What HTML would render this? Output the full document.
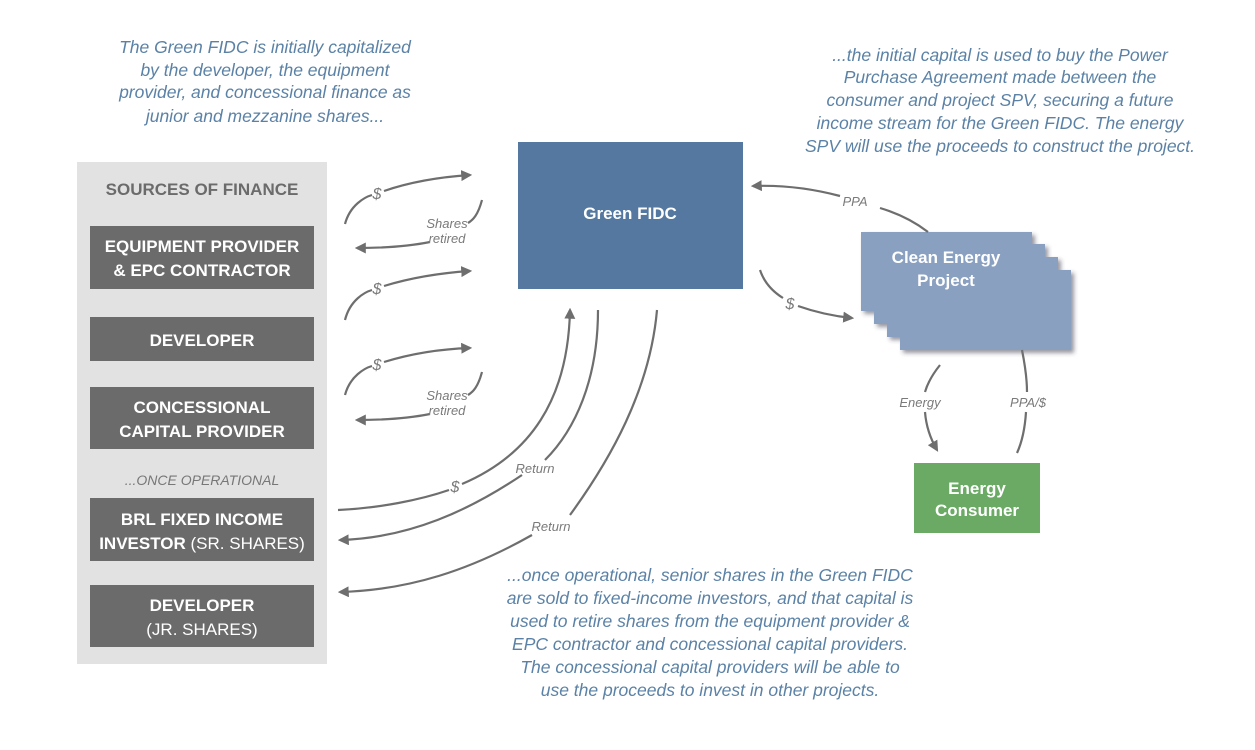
<!DOCTYPE html>
<html><head><style>
body{margin:0;background:#fff}
svg{display:block}
.it{font-family:"Liberation Sans",sans-serif;font-style:italic;fill:#5b82a6;font-size:17.5px;text-anchor:middle}
.b{font-family:"Liberation Sans",sans-serif;font-weight:bold;fill:#fff;font-size:17px;text-anchor:middle}
.l{font-family:"Liberation Sans",sans-serif;font-style:italic;fill:#7a7a7a;font-size:13px;text-anchor:middle}
.a{fill:none;stroke:#6e6e6e;stroke-width:2.2}
</style></head><body>
<svg width="1255" height="750" viewBox="0 0 1255 750">
<defs>
<marker id="m" viewBox="0 0 10 10" refX="8" refY="5" markerWidth="5" markerHeight="5" orient="auto"><path d="M0,0 L10,5 L0,10 z" fill="#6e6e6e"/></marker>
<filter id="s" x="-10%" y="-10%" width="130%" height="130%"><feDropShadow dx="3" dy="3" stdDeviation="2" flood-color="#334" flood-opacity="0.5"/></filter>
</defs>
<g class="it">
<text x="265" y="53">The Green FIDC is initially capitalized</text>
<text x="265" y="76">by the developer, the equipment</text>
<text x="265" y="98">provider, and concessional finance as</text>
<text x="265" y="122">junior and mezzanine shares...</text>
<text x="1000" y="61">...the initial capital is used to buy the Power</text>
<text x="1000" y="83">Purchase Agreement made between the</text>
<text x="1000" y="106">consumer and project SPV, securing a future</text>
<text x="1000" y="129">income stream for the Green FIDC. The energy</text>
<text x="1000" y="152">SPV will use the proceeds to construct the project.</text>
<text x="710" y="581">...once operational, senior shares in the Green FIDC</text>
<text x="710" y="604">are sold to fixed-income investors, and that capital is</text>
<text x="710" y="627">used to retire shares from the equipment provider &amp;</text>
<text x="710" y="650">EPC contractor and concessional capital providers.</text>
<text x="710" y="673">The concessional capital providers will be able to</text>
<text x="710" y="696">use the proceeds to invest in other projects.</text>
</g>
<rect x="77" y="162" width="250" height="502" fill="#e2e2e2"/>
<text x="202" y="195" class="b" style="fill:#6b6b6b">SOURCES OF FINANCE</text>
<g fill="#6b6b6b">
<rect x="90" y="226" width="224" height="63"/>
<rect x="90" y="317" width="224" height="44"/>
<rect x="90" y="387" width="224" height="62"/>
<rect x="90" y="498" width="224" height="63"/>
<rect x="90" y="585" width="224" height="62"/>
</g>
<g class="b">
<text x="202" y="252">EQUIPMENT PROVIDER</text>
<text x="202" y="276">&amp; EPC CONTRACTOR</text>
<text x="202" y="346">DEVELOPER</text>
<text x="202" y="413">CONCESSIONAL</text>
<text x="202" y="437">CAPITAL PROVIDER</text>
<text x="202" y="525">BRL FIXED INCOME</text>
<text x="202" y="549">INVESTOR <tspan font-weight="normal">(SR. SHARES)</tspan></text>
<text x="202" y="611">DEVELOPER</text>
<text x="202" y="635" font-weight="normal">(JR. SHARES)</text>
</g>
<text x="202" y="485" class="l" style="font-size:14px;fill:#777">...ONCE OPERATIONAL</text>
<rect x="518" y="142" width="225" height="147" fill="#54789f"/>
<text x="630" y="219" class="b">Green FIDC</text>
<g filter="url(#s)">
<rect x="900" y="270" width="171" height="80" fill="#8aa0c0"/>
<rect x="887" y="257" width="171" height="80" fill="#8aa0c0"/>
<rect x="874" y="244" width="171" height="80" fill="#8aa0c0"/>
<rect x="861" y="232" width="171" height="79" fill="#8aa0c0"/>
</g>
<text x="946" y="263" class="b">Clean Energy</text>
<text x="946" y="286" class="b">Project</text>
<rect x="914" y="463" width="126" height="70" fill="#6aaa64"/>
<text x="977" y="494" class="b">Energy</text>
<text x="977" y="516" class="b">Consumer</text>
<g class="a">
<path d="M345,224 C350,205 365,197 372,195 M384,191 C410,182 440,177 470,175" marker-end="url(#m)"/>
<path d="M482,200 C478,215 473,220 468,223 M430,242 C410,246 385,248 357,248" marker-end="url(#m)"/>
<path d="M345,320 C350,300 365,292 372,290 M384,286 C410,278 440,273 470,271" marker-end="url(#m)"/>
<path d="M345,395 C350,376 365,368 372,366 M384,362 C410,354 440,349 470,348" marker-end="url(#m)"/>
<path d="M482,372 C478,387 473,392 468,395 M430,414 C410,418 385,420 357,420" marker-end="url(#m)"/>
<path d="M338,510 C380,508 420,500 449,490 M462,484 C530,455 568,400 570,310" marker-end="url(#m)"/>
<path d="M598,310 C598,380 575,430 545,460 M522,475 C470,510 410,538 340,540" marker-end="url(#m)"/>
<path d="M657,310 C650,390 610,460 570,515 M532,535 C470,570 410,590 340,592" marker-end="url(#m)"/>
<path d="M928,232 C915,222 900,214 880,208 M840,196 C810,188 780,185 753,186" marker-end="url(#m)"/>
<path d="M760,270 C765,285 775,293 783,298 M798,306 C815,312 832,316 852,318" marker-end="url(#m)"/>
<path d="M940,365 C932,375 927,385 925,392 M925,412 C926,425 930,438 937,450" marker-end="url(#m)"/>
<path d="M1022,350 C1025,365 1027,380 1027,392 M1026,412 C1025,428 1022,442 1017,453"/>
</g>
<g class="l">
<text x="377" y="199" style="font-size:16px">$</text>
<text x="377" y="294" style="font-size:16px">$</text>
<text x="377" y="370" style="font-size:16px">$</text>
<text x="455" y="492" style="font-size:16px">$</text>
<text x="790" y="309" style="font-size:16px">$</text>
<text x="447" y="228">Shares</text><text x="447" y="243">retired</text>
<text x="447" y="400">Shares</text><text x="447" y="415">retired</text>
<text x="535" y="473">Return</text>
<text x="551" y="531">Return</text>
<text x="855" y="206">PPA</text>
<text x="920" y="407">Energy</text>
<text x="1028" y="407">PPA/$</text>
</g>
</svg>
</body></html>
